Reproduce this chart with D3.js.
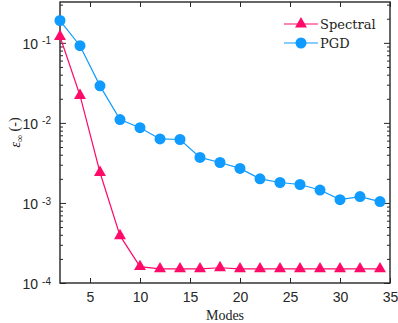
<!DOCTYPE html>
<html>
<head>
<meta charset="utf-8">
<script src="https://cdn.jsdelivr.net/npm/d3@7"></script>
<style>
  body { margin: 0; background: #fff; }
  svg { display: block; }
</style>
</head>
<body>
<svg id="chart"></svg>
<script>
const modes = [2, 4, 6, 8, 10, 12, 14, 16, 18, 20, 22, 24, 26, 28, 30, 32, 34];
const spectral = [0.12, 0.022, 0.0024, 0.00039, 0.00016, 0.00015, 0.00015, 0.00015, 0.000155,
  0.00015, 0.00015, 0.00015, 0.00015, 0.00015, 0.00015, 0.00015, 0.00015];
const pgd = [0.19, 0.092, 0.029, 0.011, 0.0087, 0.0063, 0.0062, 0.0037, 0.0032, 0.0027,
  0.002, 0.0018, 0.0017, 0.00145, 0.0011, 0.0012, 0.00104];
const xTicks = [5, 10, 15, 20, 25, 30, 35];
const yTicks = [1e-4, 1e-3, 1e-2, 1e-1];

const width = 398, height = 323;
const margin = { top: 2, right: 8, bottom: 40, left: 60 };
const pink = '#ff0a68', blue = '#0f9bff';

const svg = d3.select('#chart').attr('width', width).attr('height', height);

const x = d3.scaleLinear().domain([2, 35]).range([margin.left, width - margin.right]);
const y = d3.scaleLog().domain([1e-4, Math.pow(10, -0.49)]).range([height - margin.bottom, margin.top]);

// minor ticks for log axis
const minor = [];
for (let e = -4; e <= -1; e++) {
  for (let k = 2; k <= 9; k++) {
    const v = k * Math.pow(10, e);
    if (v <= y.domain()[1]) minor.push(v);
  }
}

const axisColor = '#262626';
const g = svg.append('g');

// bottom axis
g.append('g')
  .attr('transform', `translate(0,${y.range()[0]})`)
  .call(d3.axisBottom(x).tickValues(xTicks).tickSize(-5).tickPadding(9).tickSizeOuter(0))
  .call(s => s.select('.domain').remove())
  .call(s => s.selectAll('line').attr('stroke', axisColor))
  .call(s => s.selectAll('text').attr('font-family', 'Liberation Sans, Arial, sans-serif')
    .attr('font-size', 14).attr('fill', axisColor));

// top axis
g.append('g')
  .attr('transform', `translate(0,${y.range()[1]})`)
  .call(d3.axisTop(x).tickValues(xTicks).tickSize(-5).tickFormat(''))
  .call(s => s.select('.domain').remove())
  .call(s => s.selectAll('line').attr('stroke', axisColor));

// left axis
const left = g.append('g')
  .attr('transform', `translate(${x.range()[0]},0)`)
  .call(d3.axisLeft(y).tickValues(yTicks).tickSize(-6).tickSizeOuter(0))
  .call(s => s.select('.domain').remove())
  .call(s => s.selectAll('line').attr('stroke', axisColor));
left.selectAll('.tick text').remove();
left.selectAll('.tick').append('text')
  .attr('x', -9)
  .attr('dy', '0.4em')
  .attr('text-anchor', 'end')
  .attr('font-family', 'Liberation Sans, Arial, sans-serif')
  .attr('fill', axisColor)
  .attr('font-size', 14)
  .each(function (d) {
    const t = d3.select(this);
    t.append('tspan').text('10');
    t.append('tspan').attr('dy', '-0.45em').attr('dx', '4').attr('font-size', 10)
      .text(String(Math.round(Math.log10(d))));
  });

g.append('g')
  .attr('transform', `translate(${x.range()[0]},0)`)
  .call(d3.axisLeft(y).tickValues(minor).tickSize(-3).tickFormat(''))
  .call(s => s.select('.domain').remove())
  .call(s => s.selectAll('line').attr('stroke', axisColor));

// right axis
g.append('g')
  .attr('transform', `translate(${x.range()[1]},0)`)
  .call(d3.axisRight(y).tickValues(yTicks).tickSize(-6).tickFormat(''))
  .call(s => s.select('.domain').remove())
  .call(s => s.selectAll('line').attr('stroke', axisColor));
g.append('g')
  .attr('transform', `translate(${x.range()[1]},0)`)
  .call(d3.axisRight(y).tickValues(minor).tickSize(-3).tickFormat(''))
  .call(s => s.select('.domain').remove())
  .call(s => s.selectAll('line').attr('stroke', axisColor));

// frame
g.append('rect')
  .attr('x', x.range()[0]).attr('y', y.range()[1])
  .attr('width', x.range()[1] - x.range()[0])
  .attr('height', y.range()[0] - y.range()[1])
  .attr('fill', 'none').attr('stroke', axisColor).attr('stroke-width', 1.4);

const line = d3.line().x(d => x(d[0])).y(d => y(d[1]));
const specData = modes.map((m, i) => [m, spectral[i]]);
const pgdData = modes.map((m, i) => [m, pgd[i]]);

const tri = d3.symbol().type(d3.symbolTriangle).size(62);

svg.append('path').datum(specData).attr('d', line)
  .attr('fill', 'none').attr('stroke', pink).attr('stroke-width', 1.2);
svg.append('path').datum(pgdData).attr('d', line)
  .attr('fill', 'none').attr('stroke', blue).attr('stroke-width', 1.2);

svg.selectAll('.tri').data(specData).join('path')
  .attr('class', 'tri')
  .attr('transform', d => `translate(${x(d[0])},${y(d[1])})`)
  .attr('d', tri).attr('fill', pink);

svg.selectAll('.dot').data(pgdData).join('circle')
  .attr('class', 'dot')
  .attr('cx', d => x(d[0])).attr('cy', d => y(d[1]))
  .attr('r', 5.5).attr('fill', blue);

// legend
const legend = svg.append('g').attr('transform', 'translate(284,24)');
const items = [{ name: 'Spectral', color: pink, shape: 'tri' }, { name: 'PGD', color: blue, shape: 'dot' }];
items.forEach((it, i) => {
  const row = legend.append('g').attr('transform', `translate(0,${i * 19})`);
  row.append('line').attr('x1', 0).attr('x2', 34).attr('stroke', it.color).attr('stroke-width', 1.2);
  if (it.shape === 'tri') {
    row.append('path').attr('d', tri).attr('transform', 'translate(17,0)').attr('fill', it.color);
  } else {
    row.append('circle').attr('cx', 17).attr('r', 5.5).attr('fill', it.color);
  }
  row.append('text').attr('x', 36).attr('dy', '0.35em')
    .attr('font-family', 'DejaVu Serif, Liberation Serif, serif')
    .attr('font-size', 13).attr('fill', '#222').text(it.name);
});

// axis labels
svg.append('text')
  .attr('x', (x.range()[0] + x.range()[1]) / 2)
  .attr('y', 320)
  .attr('text-anchor', 'middle')
  .attr('font-family', 'Liberation Serif, DejaVu Serif, serif')
  .attr('font-size', 14).attr('fill', '#222')
  .text('Modes');

const ylab = svg.append('text')
  .attr('transform', `translate(20,${(y.range()[0] + y.range()[1]) / 2 - 10}) rotate(-90)`)
  .attr('text-anchor', 'middle')
  .attr('font-family', 'Liberation Serif, DejaVu Serif, serif')
  .attr('font-size', 14).attr('fill', '#222');
ylab.append('tspan').attr('font-style', 'italic').text('ε');
ylab.append('tspan').attr('font-size', 10).attr('dy', '0.3em').text('∞');
ylab.append('tspan').attr('dy', '-0.3em').text(' (-)');
</script>
</body>
</html>
